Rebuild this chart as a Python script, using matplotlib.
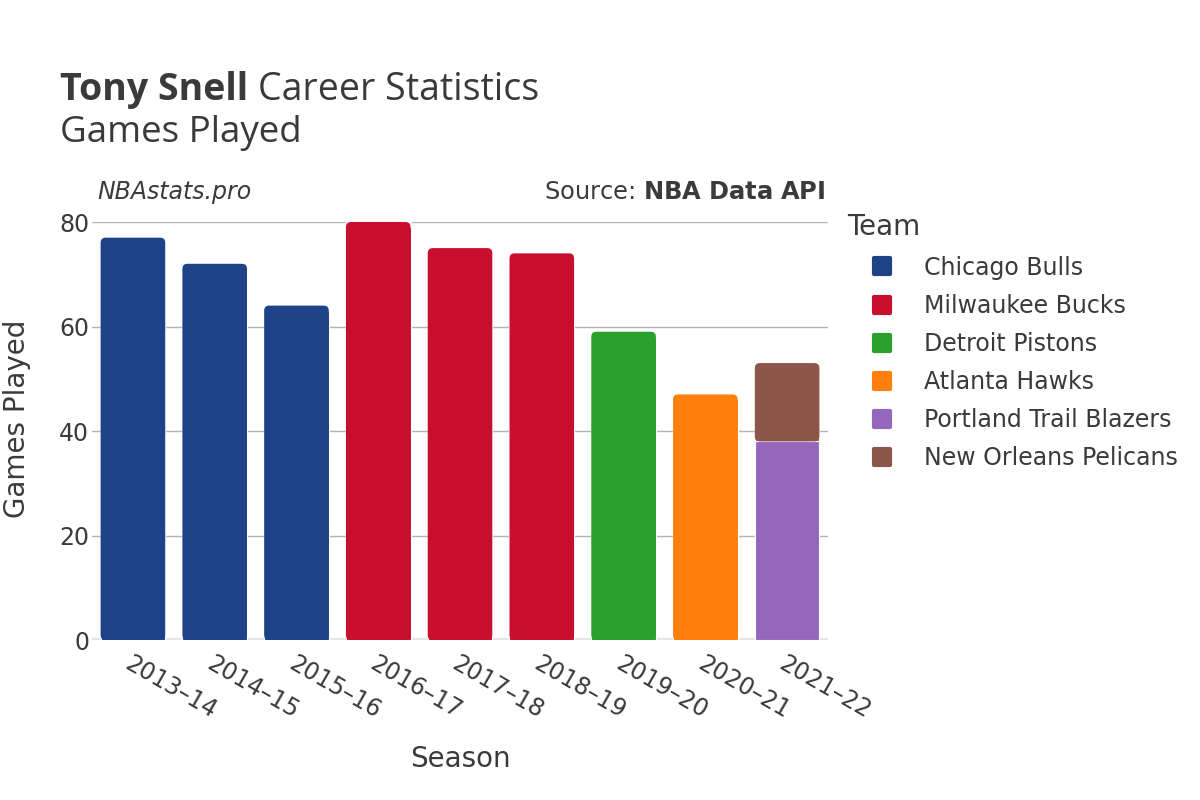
"""Tony Snell career games played, bar chart by season and team."""
import matplotlib
matplotlib.use("Agg")
import matplotlib.pyplot as plt
from matplotlib.patches import FancyBboxPatch
from matplotlib.lines import Line2D
from matplotlib.markers import MarkerStyle

seasons = ["2013–14", "2014–15", "2015–16", "2016–17", "2017–18",
           "2018–19", "2019–20", "2020–21", "2021–22"]
teams = ["Chicago Bulls", "Milwaukee Bucks", "Detroit Pistons", "Atlanta Hawks",
         "Portland Trail Blazers", "New Orleans Pelicans"]
team_colors = ["#1d4287", "#c8102e", "#2ca02c", "#ff7f0e", "#9467bd", "#8c564b"]

# games per team, one list per team, aligned with seasons
games = {
    "Chicago Bulls":          [77, 72, 64, 0, 0, 0, 0, 0, 0],
    "Milwaukee Bucks":        [0, 0, 0, 80, 75, 74, 0, 0, 0],
    "Detroit Pistons":        [0, 0, 0, 0, 0, 0, 59, 0, 0],
    "Atlanta Hawks":          [0, 0, 0, 0, 0, 0, 0, 47, 0],
    "Portland Trail Blazers": [0, 0, 0, 0, 0, 0, 0, 0, 38],
    "New Orleans Pelicans":   [0, 0, 0, 0, 0, 0, 0, 0, 15],
}

TXT = "#3a3a3a"
fig = plt.figure(figsize=(12, 8), dpi=100)
ax = fig.add_axes([0.0767, 0.2, 0.6133, 0.5225])

x = list(range(len(seasons)))
bottom = [0] * len(seasons)
top_bar = [None] * len(seasons)
for team, color in zip(teams, team_colors):
    vals = games[team]
    bars = ax.bar(x, vals, width=0.79, bottom=bottom, color=color,
                  edgecolor="white", linewidth=0.8, zorder=3)
    for i, (b, v) in enumerate(zip(bars, vals)):
        if v > 0:
            top_bar[i] = (b, color)
    bottom = [b + v for b, v in zip(bottom, vals)]

ax.set_xlim(-0.5, len(seasons) - 0.5)
ax.set_ylim(0, 80)

# round the top corners of the top segment of every bar
fig.canvas.draw()
px_x = (ax.get_xlim()[1] - ax.get_xlim()[0]) / ax.get_window_extent().width
px_y = (ax.get_ylim()[1] - ax.get_ylim()[0]) / ax.get_window_extent().height
r = 5 * px_x
aspect = px_y / px_x
for b, color in top_bar:
    bx, by, bw, bh = b.get_x(), b.get_y(), b.get_width(), b.get_height()
    b.set_height(bh - 5 * px_y)
    ax.add_patch(FancyBboxPatch((bx, by), bw, bh,
                                boxstyle=f"round,pad=0,rounding_size={r}",
                                mutation_aspect=aspect, facecolor=color,
                                edgecolor="none", zorder=3))

ax.set_yticks([0, 20, 40, 60, 80])
ax.grid(axis="y", color="#b4b4b4", linewidth=1, zorder=0)
ax.axhline(0, color="#e6e6e6", linewidth=3, zorder=2)
for s in ax.spines.values():
    s.set_visible(False)
ax.tick_params(axis="y", length=0, labelsize=17, labelcolor=TXT, pad=2)
ax.tick_params(axis="x", length=0, labelsize=17, labelcolor=TXT, pad=8)
ax.set_xticks(x)
ax.set_xticklabels(seasons, rotation=-30, ha="left", rotation_mode="anchor")

ax.set_ylabel("Games Played", fontsize=20, color=TXT)
ax.yaxis.set_label_coords(-0.083, 0.529)
ax.set_xlabel("Season", fontsize=20, color=TXT, labelpad=16)

t1 = fig.text(0.05, 0.888, "Tony Snell ", fontsize=27, fontweight="bold",
              color=TXT, family="Open Sans", va="center")
fig.canvas.draw()
bb = t1.get_window_extent()
fig.text(bb.x1 / fig.bbox.width, 0.888, "Career Statistics", fontsize=27,
         color=TXT, family="Open Sans", va="center")
fig.text(0.05, 0.834, "Games Played", fontsize=26.5, color=TXT,
         family="Open Sans", va="center")
fig.text(0.081, 0.76, "NBAstats.pro", fontsize=17, style="italic",
         color=TXT, va="center")
fig.text(0.6875, 0.76, r"Source: $\bf{NBA\ Data\ API}$", fontsize=17.4,
         color=TXT, va="center", ha="right")

mk = MarkerStyle("s", joinstyle="round")
handles = [Line2D([], [], marker=mk, linestyle="none", markersize=12,
                  markeredgewidth=3, markerfacecolor=c, markeredgecolor=c)
           for c in team_colors]
leg = fig.legend(handles, teams, loc="upper left", bbox_to_anchor=(0.698, 0.745),
                 frameon=False, fontsize=17, title="Team", title_fontsize=20,
                 labelcolor=TXT, handlelength=3.0, handletextpad=0.25,
                 labelspacing=0.6, borderaxespad=0)
leg.get_title().set_color(TXT)
leg._legend_box.align = "left"

fig.savefig("out.png", dpi=100)
